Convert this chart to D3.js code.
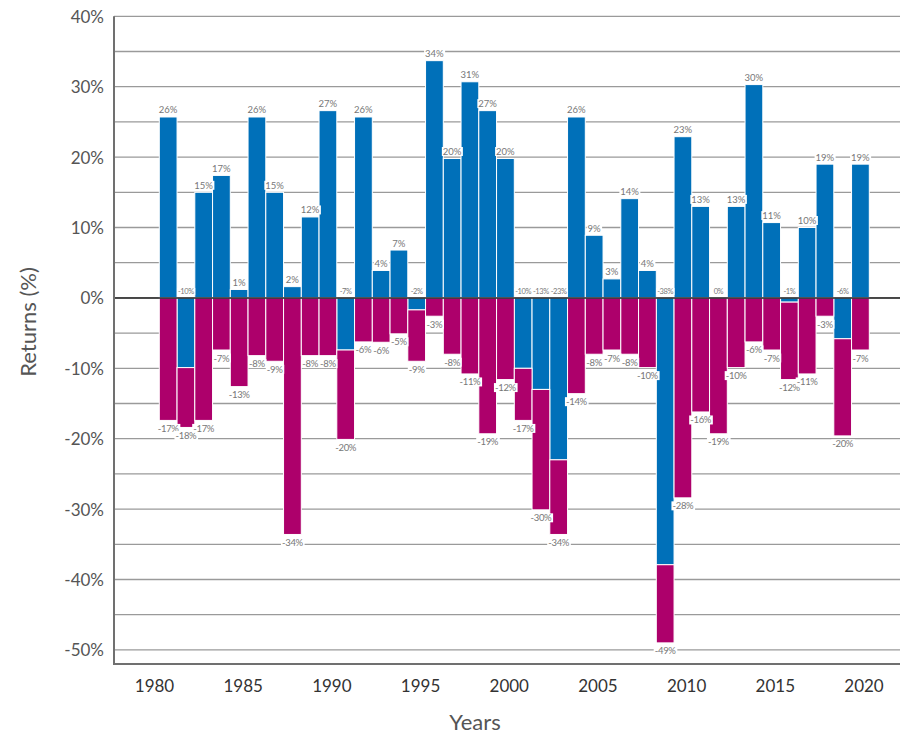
<!DOCTYPE html>
<html>
<head>
<meta charset="utf-8">
<script src="https://cdn.jsdelivr.net/npm/d3@7"></script>
<style>
  body { margin: 0; background: #fff; }
  text { font-family: Lato, "Open Sans", sans-serif; }
</style>
</head>
<body>
<div id="chart"></div>
<script>
/**
 * DATA
 * */
const years = [1980, 1981, 1982, 1983, 1984, 1985, 1986, 1987, 1988, 1989,
  1990, 1991, 1992, 1993, 1994, 1995, 1996, 1997, 1998, 1999,
  2000, 2001, 2002, 2003, 2004, 2005, 2006, 2007, 2008, 2009,
  2010, 2011, 2012, 2013, 2014, 2015, 2016, 2017, 2018, 2019];

// calendar year return (blue)
const annualReturns = [25.7, -9.9, 15.0, 17.4, 1.2, 25.7, 15.0, 1.6, 11.5, 26.6,
  -7.4, 25.7, 3.9, 6.8, -1.7, 33.7, 19.8, 30.7, 26.6, 19.8,
  -10.0, -13.0, -23.0, 25.7, 8.9, 2.7, 14.1, 3.9, -37.9, 22.9,
  13.0, 0, 13.0, 30.3, 10.7, -0.6, 10.0, 19.0, -5.8, 19.0];

// largest intra-year decline (magenta)
const intraYearDeclines = [-17.4, -18.4, -17.4, -7.4, -12.6, -8.2, -9.0, -33.6, -8.2, -8.2,
  -20.1, -6.25, -6.3, -5.1, -9.0, -2.6, -8.0, -10.8, -19.3, -11.6,
  -17.4, -30.1, -33.6, -13.6, -8.0, -7.4, -8.0, -9.9, -49.0, -28.4,
  -16.2, -19.3, -9.9, -6.25, -7.4, -11.6, -10.8, -2.6, -19.6, -7.4];

const yTickValues = [40, 30, 20, 10, 0, -10, -20, -30, -40, -50];
const gridValues = d3.range(-50, 41, 5);
const xTickYears = [1980, 1985, 1990, 1995, 2000, 2005, 2010, 2015, 2020];

/**
 * CONSTANTS
 * */
const width = 901, height = 734;
const plot = { left: 114, right: 900, top: 16.3, bottom: 664 };
const blue = "#0070b9", magenta = "#ad006b";

const data = years.map((y, i) => ({ year: y, ret: annualReturns[i], dec: intraYearDeclines[i] }));
const fmt = v => { const r = Math.round(v); return (r === 0 ? 0 : r) + "%"; };

const svg = d3.select("#chart")
  .append("svg")
  .attr("width", width)
  .attr("height", height);

const yScale = d3.scaleLinear()
  .domain([-52, 40])
  .range([plot.bottom, plot.top]);

const xScale = d3.scaleBand()
  .domain(years)
  .range([159.3, 869.3])
  .padding(0);

// year labels sit a little left of the bar centres
const xLabel = d3.scaleLinear()
  .domain([1980, 2020])
  .range([154.5, 864]);

// gridlines
svg.append("g")
  .selectAll("line")
  .data(gridValues)
  .join("line")
  .attr("x1", plot.left)
  .attr("x2", plot.right)
  .attr("y1", d => yScale(d))
  .attr("y2", d => yScale(d))
  .attr("stroke", "#9a9a9a")
  .attr("stroke-width", 1.3);

// bars
const bars = svg.append("g");

bars.selectAll("rect.ret")
  .data(data.filter(d => d.ret !== 0))
  .join("rect")
  .attr("class", "ret")
  .attr("x", d => xScale(d.year))
  .attr("width", xScale.bandwidth())
  .attr("y", d => yScale(Math.max(0, d.ret)))
  .attr("height", d => Math.abs(yScale(d.ret) - yScale(0)))
  .attr("fill", blue)
  .attr("stroke", "#fff")
  .attr("stroke-width", 1);

bars.selectAll("rect.dec")
  .data(data)
  .join("rect")
  .attr("class", "dec")
  .attr("x", d => xScale(d.year))
  .attr("width", xScale.bandwidth())
  .attr("y", d => yScale(Math.min(0, d.ret)))
  .attr("height", d => yScale(d.dec) - yScale(Math.min(0, d.ret)))
  .attr("fill", magenta)
  .attr("stroke", "#fff")
  .attr("stroke-width", 1);

// zero line
svg.append("line")
  .attr("x1", plot.left)
  .attr("x2", plot.right)
  .attr("y1", yScale(0))
  .attr("y2", yScale(0))
  .attr("stroke", "#222")
  .attr("stroke-width", 1.5);

// frame: left and bottom
svg.append("path")
  .attr("d", `M${plot.left},${plot.top}V${plot.bottom}H${plot.right}`)
  .attr("fill", "none")
  .attr("stroke", "#707070")
  .attr("stroke-width", 2);

// value labels with white boxes
const labelData = [];
data.forEach(d => {
  const cx = xScale(d.year) + xScale.bandwidth() / 2;
  if (d.ret > 0) labelData.push({ x: cx, y: yScale(d.ret) - 7, t: fmt(d.ret), size: 9.5, ls: 0 });
  else labelData.push({ x: cx, y: yScale(0) - 6.5, t: fmt(d.ret), size: 7.5, ls: -0.4 });
  labelData.push({ x: cx, y: yScale(d.dec) + 8, t: fmt(d.dec), size: 9.5, ls: -0.3 });
});

const labels = svg.append("g")
  .selectAll("g")
  .data(labelData)
  .join("g");

labels.append("rect").attr("fill", "#fff");
labels.append("text")
  .attr("x", d => d.x)
  .attr("y", d => d.y)
  .attr("text-anchor", "middle")
  .attr("dominant-baseline", "central")
  .attr("font-size", d => d.size)
  .attr("letter-spacing", d => d.ls)
  .attr("fill", "#777")
  .text(d => d.t);

labels.each(function() {
  const g = d3.select(this);
  const bb = g.select("text").node().getBBox();
  g.select("rect")
    .attr("x", bb.x - 1)
    .attr("y", bb.y + 1)
    .attr("width", bb.width + 2)
    .attr("height", bb.height - 2);
});

// y axis labels
svg.append("g")
  .selectAll("text")
  .data(yTickValues)
  .join("text")
  .attr("x", 104)
  .attr("y", d => yScale(d))
  .attr("text-anchor", "end")
  .attr("dominant-baseline", "central")
  .attr("font-size", 17)
  .attr("fill", "#555")
  .text(d => d + "%");

// x axis labels
svg.append("g")
  .selectAll("text")
  .data(xTickYears)
  .join("text")
  .attr("x", d => xLabel(d))
  .attr("y", 685)
  .attr("text-anchor", "middle")
  .attr("dominant-baseline", "central")
  .attr("font-size", 17)
  .attr("fill", "#333")
  .text(d => d);

// axis titles
svg.append("text")
  .attr("transform", "translate(27,322) rotate(-90)")
  .attr("text-anchor", "middle")
  .attr("dominant-baseline", "central")
  .attr("font-size", 22)
  .attr("fill", "#555")
  .text("Returns (%)");

svg.append("text")
  .attr("x", 475)
  .attr("y", 721)
  .attr("text-anchor", "middle")
  .attr("dominant-baseline", "central")
  .attr("font-size", 22)
  .attr("fill", "#555")
  .text("Years");
</script>
</body>
</html>
